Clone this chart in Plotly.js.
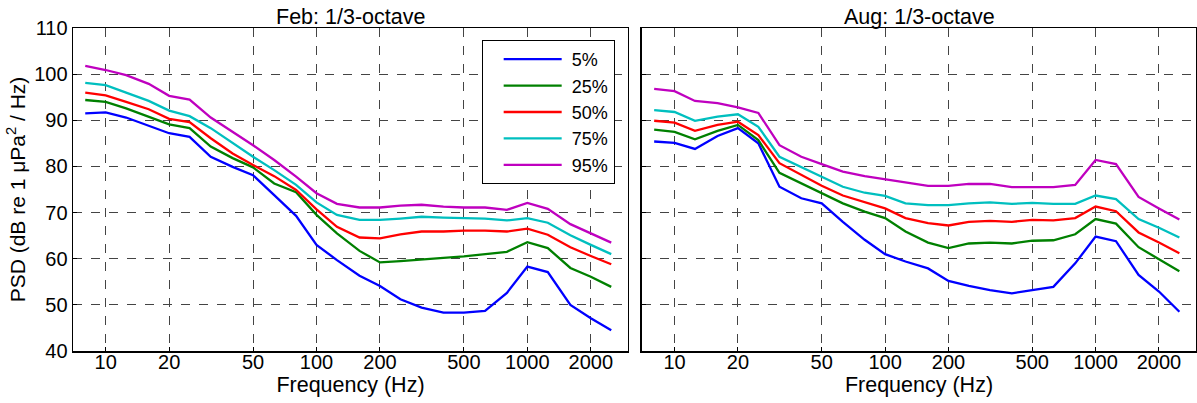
<!DOCTYPE html>
<html><head><meta charset="utf-8">
<script src="https://cdn.plot.ly/plotly-3.0.1.min.js"></script>
<style>html,body{margin:0;padding:0;background:#fff}#chart{width:1197px;height:403px}</style>
</head><body><div id="chart"></div>
<script>
const freqs = [8,10,12.5,16,20,25,31.5,40,50,63,80,100,125,160,200,250,315,400,500,630,800,1000,1250,1600,2000,2500];
const seriesNames = ['5%','25%','50%','75%','95%'];
const seriesColors = ['#0000ff','#008000','#ff0000','#00bfbf','#bf00bf'];

const feb5  = [91.5,91.7,90.6,88.8,87.2,86.4,82.1,79.9,78.1,73.8,69.3,63.0,59.7,56.3,54.1,51.2,49.4,48.3,48.3,48.7,52.6,58.3,57.1,50.0,47.1,44.5];
const feb25 = [94.4,94.0,92.6,90.8,89.1,88.3,84.3,81.8,79.8,76.3,74.4,69.5,65.5,61.7,59.2,59.5,59.9,60.2,60.5,61.0,61.5,63.6,62.3,58.0,56.1,53.9];
const feb50 = [96.0,95.4,94.0,92.4,90.3,89.6,86.1,82.8,80.3,77.9,74.9,70.7,66.9,64.6,64.4,65.3,65.9,65.9,66.1,66.1,65.9,66.5,65.2,62.5,60.6,58.8];
const feb75 = [98.1,97.6,96.0,94.2,92.1,90.9,88.3,85.0,82.1,79.2,76.0,72.2,69.5,68.4,68.4,68.7,69.1,68.9,68.8,68.7,68.3,68.8,67.8,65.1,63.0,61.0];
const feb95 = [101.8,100.9,99.8,97.9,95.3,94.5,90.6,87.5,84.6,81.4,77.8,74.2,71.9,71.1,71.1,71.5,71.7,71.3,71.1,71.1,70.6,72.1,70.8,67.5,65.5,63.5];

const aug5  = [85.4,85.1,83.8,86.6,88.3,85.0,75.6,73.1,72.0,68.0,64.1,61.0,59.4,57.9,55.2,54.1,53.2,52.5,53.2,53.9,59.0,64.8,63.8,56.5,52.9,48.5];
const aug25 = [88.0,87.5,85.9,87.7,89.0,85.7,78.6,76.3,74.2,72.0,70.2,68.8,65.9,63.5,62.3,63.3,63.5,63.3,63.9,64.0,65.3,68.6,67.6,62.5,59.9,57.3];
const aug50 = [89.9,89.5,87.7,89.0,89.7,86.8,80.7,78.1,75.8,73.7,72.2,70.9,68.8,67.7,67.2,68.0,68.2,68.0,68.4,68.3,68.8,71.3,70.3,65.7,63.5,61.2];
const aug75 = [92.2,91.8,89.9,90.8,91.3,88.6,82.1,79.9,77.8,75.6,74.3,73.6,72.0,71.6,71.6,72.0,72.2,71.9,72.1,71.9,71.9,73.7,72.9,68.6,66.7,64.6];
const aug95 = [96.8,96.3,94.2,93.7,92.8,91.6,84.6,82.1,80.5,78.9,77.9,77.2,76.5,75.8,75.8,76.2,76.2,75.5,75.5,75.5,76.0,81.4,80.5,73.4,70.9,68.5];

const xTickVals = [10,20,50,100,200,500,1000,2000];
const xTickText = ['10','20','50','100','200','500','1000','2000'];
const yTickVals = [40,50,60,70,80,90,100,110];

const febSeries = [feb5,feb25,feb50,feb75,feb95];
const augSeries = [aug5,aug25,aug50,aug75,aug95];

const traces = [];
febSeries.forEach((s,i)=>traces.push({x:freqs,y:s,type:'scatter',mode:'lines',name:'\u00a0'+seriesNames[i],
  line:{color:seriesColors[i],width:2.3},xaxis:'x',yaxis:'y',showlegend:true}));
augSeries.forEach((s,i)=>traces.push({x:freqs,y:s,type:'scatter',mode:'lines',name:seriesNames[i],
  line:{color:seriesColors[i],width:2.3},xaxis:'x2',yaxis:'y2',showlegend:false}));

const FONT = 'Liberation Sans, Arial, sans-serif';
const xBase = {type:'log',range:[Math.log10(7),Math.log10(3000)],tickvals:xTickVals,ticktext:xTickText,
  showgrid:true,gridcolor:'#444',griddash:'dash',gridwidth:1,showline:true,linecolor:'#000',linewidth:1.5,
  mirror:true,ticks:'inside',ticklen:4,tickcolor:'#000',zeroline:false,tickfont:{family:FONT,size:20,color:'#000'},
  ticklabelstandoff:-8,
  title:{text:'Frequency (Hz)',font:{family:FONT,size:21.5,color:'#000'},standoff:0}};
const yBase = {range:[40,110],tickvals:yTickVals,showgrid:true,gridcolor:'#444',griddash:'dash',gridwidth:1,
  showline:true,linecolor:'#000',linewidth:1.5,mirror:true,ticks:'inside',ticklen:4,tickcolor:'#000',zeroline:false,
  tickfont:{family:FONT,size:20,color:'#000'},domain:[0.129,0.9305]};

const layout = {
  width:1197,height:403,margin:{l:0,r:0,t:0,b:0},paper_bgcolor:'#fff',plot_bgcolor:'#fff',
  font:{family:FONT,color:'#000'},
  xaxis:Object.assign({},xBase,{domain:[0.061,0.5246],anchor:'y'}),
  yaxis:Object.assign({},yBase,{anchor:'x',title:{text:'PSD (dB re 1 μPa<sup>2</sup> / Hz)',font:{family:FONT,size:21,color:'#000'},standoff:3}}),
  xaxis2:Object.assign({},xBase,{domain:[0.5363,0.9992],anchor:'y2'}),
  yaxis2:Object.assign({},yBase,{anchor:'x2',showticklabels:false}),
  legend:{x:0.4024,y:0.9007,xanchor:'left',yanchor:'top',bgcolor:'#fff',bordercolor:'#000',borderwidth:1,
    font:{family:FONT,size:18,color:'#000'},itemwidth:58,indentation:16},
  annotations:[
    {text:'Feb: 1/3-octave',x:0.2928,y:1-17/403,xref:'paper',yref:'paper',showarrow:false,font:{family:FONT,size:21.5,color:'#000'},xanchor:'center',yanchor:'middle'},
    {text:'Aug: 1/3-octave',x:0.7678,y:1-17/403,xref:'paper',yref:'paper',showarrow:false,font:{family:FONT,size:21.5,color:'#000'},xanchor:'center',yanchor:'middle'}
  ]
};
Plotly.newPlot('chart',traces,layout,{displayModeBar:false,staticPlot:true});
</script></body></html>
